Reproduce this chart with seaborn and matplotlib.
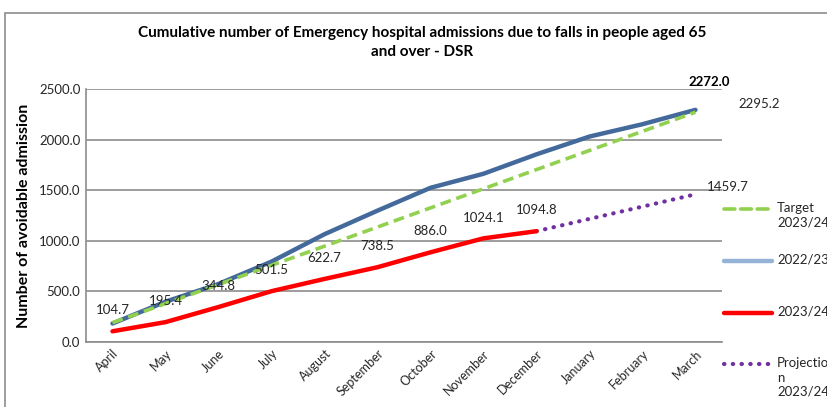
import pandas as pd
import matplotlib.pyplot as plt
from matplotlib.lines import Line2D
from matplotlib.patches import Rectangle
import seaborn as sns

# ── Data ──────────────────────────────────────────────────────────────────────

MONTHS = ["April", "May", "June", "July", "August", "September", "October",
          "November", "December", "January", "February", "March"]

TARGET_2324 = [189.3, 378.7, 568.0, 757.3, 946.7, 1136.0, 1325.3, 1514.7,
               1704.0, 1893.3, 2082.7, 2272.0]
ACTUAL_2223 = [182, 397, 573, 794, 1065, 1298, 1524, 1663, 1855, 2031, 2153, 2295.2]
ACTUAL_2324 = [104.7, 195.4, 344.8, 501.5, 622.7, 738.5, 886.0, 1024.1, 1094.8]
PROJ_MONTHS = ["December", "January", "February", "March"]
PROJ_2324 = [1094.8, 1216.4, 1338.1, 1459.7]

# ── Style ─────────────────────────────────────────────────────────────────────

GREEN = "#92D050"
BLUE = "#44699B"
BLUE_LEG = "#95B3D7"
RED = "#FF0000"
PURPLE = "#7030A0"
GRID = "#8C8C8C"
TXT = "#262626"

DASH = (0, (3, 1.6))
DOT = (0, (0.1, 2.0))

sns.set_style("white")
plt.rcParams["font.family"] = ["Lato", "DejaVu Sans"]

pos = {m: i for i, m in enumerate(MONTHS)}
df_main = pd.DataFrame({
    "pos": [pos[m] for m in MONTHS],
    "target": TARGET_2324,
    "y2223": ACTUAL_2223,
})
df_2324 = pd.DataFrame({"pos": [pos[m] for m in MONTHS[:len(ACTUAL_2324)]],
                        "val": ACTUAL_2324})
df_proj = pd.DataFrame({"pos": [pos[m] for m in PROJ_MONTHS], "val": PROJ_2324})

fig = plt.figure(figsize=(8.27, 4.07), dpi=100)
ax = fig.add_axes([0.104, 0.160, 0.769, 0.621])

# outer chart frame
fig.add_artist(Rectangle((5 / 827, -0.1), 1.2, 1.1 - 13 / 407,
                         transform=fig.transFigure, fill=False,
                         edgecolor=GRID, linewidth=1.2))

sns.lineplot(data=df_main, x="pos", y="y2223", ax=ax, color=BLUE,
             linewidth=3.2, solid_capstyle="round")
sns.lineplot(data=df_main, x="pos", y="target", ax=ax, color=GREEN,
             linewidth=2.6, linestyle=DASH)
sns.lineplot(data=df_proj, x="pos", y="val", ax=ax, color=PURPLE,
             linewidth=3.0, linestyle=DOT, dash_capstyle="round")
sns.lineplot(data=df_2324, x="pos", y="val", ax=ax, color=RED,
             linewidth=3.2, solid_capstyle="round")

# data labels
for i, v in zip(df_2324["pos"], df_2324["val"]):
    ax.annotate(f"{v:.1f}", (i, v), xytext=(0, 15), textcoords="offset points",
                ha="center", va="center", fontsize=9.5, color=TXT)
ax.annotate(f"{TARGET_2324[-1]:.1f}", (len(MONTHS) - 1, TARGET_2324[-1]),
            xytext=(10, 22), textcoords="offset points", ha="center",
            va="center", fontsize=9.5, fontweight="bold", color="black")
ax.annotate(f"{ACTUAL_2223[-1]:.1f}", (len(MONTHS) - 1, ACTUAL_2223[-1]),
            xytext=(46, 4), textcoords="offset points", ha="center",
            va="center", fontsize=9.5, color=TXT)
ax.annotate(f"{PROJ_2324[-1]:.1f}", (len(MONTHS) - 1, PROJ_2324[-1]),
            xytext=(23, 5), textcoords="offset points", ha="center",
            va="center", fontsize=9.5, color=TXT)

# axes
ax.set_xlim(-0.5, len(MONTHS) - 0.5)
ax.set_ylim(0, 2500)
ax.set_yticks(range(0, 2501, 500))
ax.set_yticklabels([f"{t:.1f}" for t in range(0, 2501, 500)], fontsize=9.5, color=TXT)
ax.set_xticks(range(len(MONTHS)))
ax.set_xticklabels(MONTHS, rotation=45, ha="right", rotation_mode="anchor",
                   fontsize=9, color=TXT)
ax.tick_params(axis="both", length=0, pad=4)
ax.grid(axis="y", color=GRID, linewidth=1.2)
ax.set_axisbelow(True)
for s in ["top", "right"]:
    ax.spines[s].set_visible(False)
for s in ["left", "bottom"]:
    ax.spines[s].set_color(GRID)
    ax.spines[s].set_linewidth(1.2)
ax.set_xlabel("")
ax.set_ylabel("Number of avoidable admission", fontsize=11.5, fontweight="bold",
              color="black", labelpad=6)

fig.text(0.51, 0.895, "Cumulative number of Emergency hospital admissions due to falls in people aged 65\nand over - DSR",
         ha="center", va="center", fontsize=11, fontweight="bold",
         linespacing=1.45, color="black")

# legend (manual, right side)
legend_items = [
    ("Target\n2023/24", GREEN, DASH, 2.6, 209),
    ("2022/23", BLUE_LEG, "-", 3.2, 261),
    ("2023/24", RED, "-", 3.2, 313),
    ("Projectio\nn\n2023/24", PURPLE, DOT, 3.0, 364),
]
for label, color, ls, lw, ypx in legend_items:
    yf = 1 - ypx / 407
    fig.add_artist(Line2D([724 / 827, 772 / 827], [yf, yf],
                          transform=fig.transFigure, color=color,
                          linestyle=ls, linewidth=lw, dash_capstyle="round"))
    fig.text(777 / 827, yf + 7 / 407, label, ha="left", va="top",
             fontsize=9.5, color=TXT, linespacing=1.25)

fig.savefig("out.png", dpi=100)
